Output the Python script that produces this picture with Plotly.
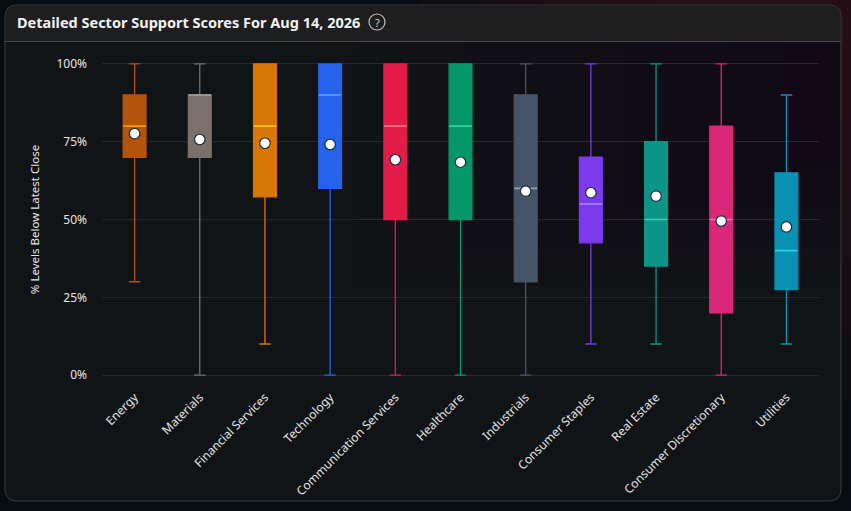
import plotly.graph_objects as go

# sector support score distributions (percent of levels below latest close)
sectors = ["Energy", "Materials", "Financial Services", "Technology",
           "Communication Services", "Healthcare", "Industrials",
           "Consumer Staples", "Real Estate", "Consumer Discretionary", "Utilities"]
lower = [30, 0, 10, 0, 0, 0, 0, 10, 10, 0, 10]
q1 = [70, 70, 57.3, 60, 50, 50, 30, 42.5, 35, 20, 27.5]
median = [80, 90, 80, 90, 80, 80, 60, 55, 50, 50, 40]
q3 = [90, 90, 100, 100, 100, 100, 90, 70, 75, 80, 65]
upper = [100, 100, 100, 100, 100, 100, 100, 100, 100, 100, 90]
mean = [77.6, 75.7, 74.5, 74.1, 69.2, 68.4, 59.1, 58.6, 57.5, 49.5, 47.6]

y_ticks = [0, 25, 50, 75, 100]
y_tick_labels = ["0%", "25%", "50%", "75%", "100%"]

box_colors = ["#b45309", "#78716c", "#d97706", "#2563eb", "#e11d48", "#059669",
              "#475569", "#7c3aed", "#0d9488", "#db2777", "#0891b2"]
median_colors = ["#f59e0b", "#a8a29e", "#fbbf24", "#60a5fa", "#fb7185", "#34d399",
                 "#94a3b8", "#a78bfa", "#2dd4bf", "#f472b6", "#22d3ee"]

W, H = 851, 511
ML, MR, MT, MB = 102, 32, 62, 134
PW, PH = W - ML - MR, H - MT - MB


def px(x, y):
    # page pixel -> paper coords (paper is relative to the plot area)
    return (x - ML) / PW, (H - MB - y) / PH


def rounded_rect(x0, y0, x1, y1, r, top_only=False):
    rx, ry = r / PW, r / PH
    a, b = px(x0, y0)
    c, d = px(x1, y1)
    rb = 0 if top_only else 1
    return (f"M {a + rx},{b} L {c - rx},{b} Q {c},{b} {c},{b - ry} "
            f"L {c},{d + ry*rb} Q {c},{d} {c - rx*rb},{d} "
            f"L {a + rx*rb},{d} Q {a},{d} {a},{d + ry*rb} "
            f"L {a},{b - ry} Q {a},{b} {a + rx},{b} Z")


fig = go.Figure()

for i, s in enumerate(sectors):
    fig.add_trace(go.Box(
        x=[s], q1=[q1[i]], median=[median[i]], q3=[q3[i]],
        lowerfence=[lower[i]], upperfence=[upper[i]],
        fillcolor=box_colors[i], line=dict(color=box_colors[i], width=1.3),
        whiskerwidth=0.5, boxpoints=False, hoverinfo="skip", showlegend=False))
    # lighter median stroke drawn as a flat box on top
    fig.add_trace(go.Box(
        x=[s], q1=[median[i]], median=[median[i]], q3=[median[i]],
        lowerfence=[median[i]], upperfence=[median[i]],
        fillcolor="rgba(0,0,0,0)", line=dict(color=median_colors[i], width=1.6),
        whiskerwidth=0, boxpoints=False, hoverinfo="skip", showlegend=False))

fig.add_trace(go.Scatter(
    x=sectors, y=mean, mode="markers", cliponaxis=False, showlegend=False,
    hoverinfo="skip",
    marker=dict(color="white", size=10.5, line=dict(color="#1f2937", width=1.2))))

shapes = []
# reddish glow outside the card, top right
for k in range(5):
    a0, a1 = px(420 + 60 * k, 0)[0], px(851, 0)[0]
    shapes.append(dict(type="rect", xref="paper", yref="paper", x0=a0, x1=a1,
                       y0=px(0, 120 + 70 * (4 - k))[1], y1=px(0, 0)[1],
                       fillcolor="rgba(70,20,32,0.12)", line_width=0, layer="below"))
# card body
shapes.append(dict(type="path", xref="paper", yref="paper",
                   path=rounded_rect(5, 5, 841, 501, 12),
                   fillcolor="#111416", line=dict(color="#3c3c3c", width=1),
                   layer="below"))
# soft warm tint towards the right of the card
for k in range(10):
    shapes.append(dict(type="rect", xref="paper", yref="paper",
                       x0=px(300 + 54 * k, 0)[0], x1=px(840, 0)[0],
                       y0=px(0, 300 - 15 * k)[1], y1=px(0, 42)[1],
                       fillcolor="rgba(60,20,26,0.025)", line_width=0, layer="below"))
# header band
shapes.append(dict(type="path", xref="paper", yref="paper",
                   path=rounded_rect(5.5, 5.5, 840.5, 41, 12, top_only=True),
                   fillcolor="#1e1e1e", line_width=0, layer="below"))
shapes.append(dict(type="line", xref="paper", yref="paper", x0=px(5, 0)[0],
                   x1=px(841, 0)[0], y0=px(0, 41.5)[1], y1=px(0, 41.5)[1],
                   line=dict(color="#4a4a4a", width=1), layer="below"))
# help icon
shapes.append(dict(type="circle", xref="paper", yref="paper", x0=px(369, 0)[0],
                   x1=px(385, 0)[0], y0=px(0, 30)[1], y1=px(0, 14)[1],
                   line=dict(color="#bdbdbd", width=1.2)))

fig.update_layout(
    width=W, height=H,
    margin=dict(l=ML, r=MR, t=MT, b=MB),
    paper_bgcolor="#070e12", plot_bgcolor="rgba(0,0,0,0)",
    font=dict(family="Noto Sans, Open Sans, sans-serif", color="#e6e6e6", size=11),
    boxmode="overlay", boxgap=0.5,
    shapes=shapes,
    annotations=[
        dict(text="<b>Detailed Sector Support Scores For Aug 14, 2026</b>",
             xref="paper", yref="paper", x=px(15, 0)[0], y=px(0, 22)[1],
             xanchor="left", yanchor="middle", showarrow=False,
             font=dict(size=14.5, color="#f2f2f2")),
        dict(text="?", xref="paper", yref="paper", x=px(377, 0)[0], y=px(0, 22)[1],
             xanchor="center", yanchor="middle", showarrow=False,
             font=dict(size=11, color="#d0d0d0")),
    ],
    xaxis=dict(range=[-0.5, len(sectors) - 0.5], tickangle=-45, showgrid=False,
               zeroline=False, showline=False, ticklabelstandoff=10,
               tickfont=dict(size=12, color="#e6e6e6")),
    yaxis=dict(range=[-0.6, 100.6], tickmode="array", tickvals=y_ticks,
               ticktext=y_tick_labels, ticklabelstandoff=14,
               gridcolor="#262a2d", zeroline=False, showline=False,
               tickfont=dict(size=12, color="#e6e6e6"),
               title=dict(text="% Levels Below Latest Close", standoff=14,
                          font=dict(size=11.5, color="#e6e6e6"))),
)

fig.write_html("out.html", config={"displayModeBar": False},
               post_script="document.body.style.margin='0';")
